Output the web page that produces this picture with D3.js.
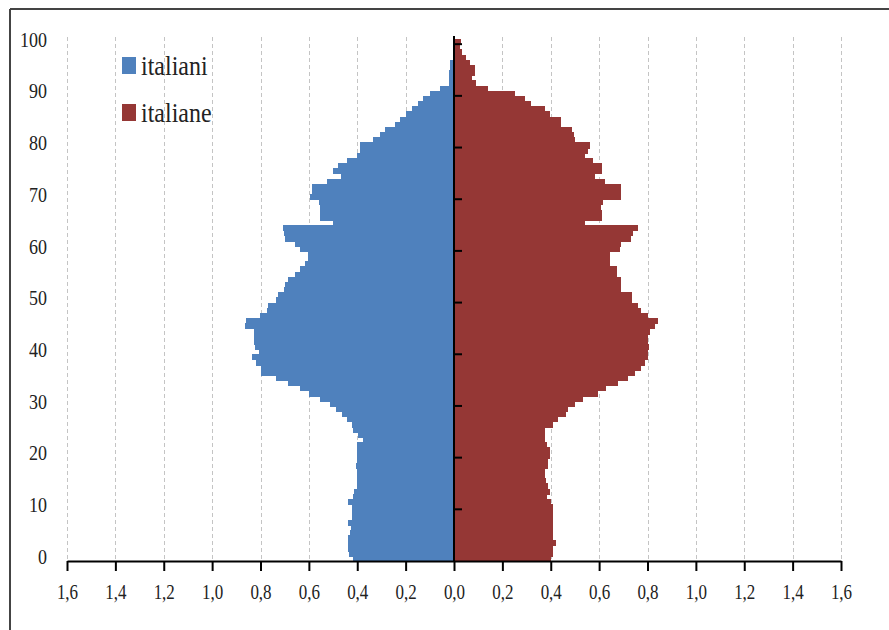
<!DOCTYPE html>
<html>
<head>
<meta charset="utf-8">
<script src="https://cdn.jsdelivr.net/npm/d3@7/dist/d3.min.js"></script>
<style>
  html, body { margin: 0; padding: 0; background: #fff; }
  svg { display: block; }
  text { font-family: "Liberation Serif", "DejaVu Serif", serif; fill: #222; }
</style>
</head>
<body>
<svg id="chart" width="889" height="630"></svg>
<script>
// ---- data ----
const ages = [0,1,2,3,4,5,6,7,8,9,10,11,12,13,14,15,16,17,18,19,20,21,22,23,24,25,26,27,28,29,30,31,32,33,34,35,36,37,38,39,40,41,42,43,44,45,46,47,48,49,50,51,52,53,54,55,56,57,58,59,60,61,62,63,64,65,66,67,68,69,70,71,72,73,74,75,76,77,78,79,80,81,82,83,84,85,86,87,88,89,90,91,92,93,94,95,96,97,98,99,100];
const italiani = [0.417,0.433,0.437,0.437,0.437,0.430,0.426,0.437,0.423,0.423,
  0.423,0.437,0.417,0.414,0.403,0.403,0.400,0.403,0.406,0.403,
  0.403,0.403,0.403,0.375,0.396,0.417,0.423,0.444,0.465,0.486,
  0.513,0.552,0.599,0.637,0.686,0.734,0.796,0.796,0.817,0.837,
  0.806,0.823,0.828,0.828,0.828,0.865,0.860,0.803,0.775,0.768,
  0.734,0.727,0.702,0.699,0.686,0.658,0.637,0.617,0.603,0.603,
  0.637,0.658,0.699,0.702,0.706,0.500,0.554,0.554,0.552,0.557,
  0.596,0.589,0.589,0.527,0.469,0.500,0.479,0.444,0.400,0.389,
  0.389,0.334,0.306,0.286,0.244,0.223,0.200,0.172,0.148,0.127,
  0.099,0.058,0.021,0.021,0.020,0.017,0.017,0.006,0.004,0.003,0.002];
const italiane = [0.400,0.410,0.410,0.423,0.410,0.410,0.410,0.410,0.410,0.410,
  0.410,0.403,0.386,0.396,0.389,0.382,0.378,0.378,0.389,0.389,
  0.396,0.396,0.386,0.378,0.378,0.375,0.410,0.430,0.465,0.472,
  0.499,0.534,0.596,0.630,0.679,0.720,0.748,0.775,0.789,0.800,
  0.803,0.806,0.803,0.803,0.810,0.830,0.844,0.800,0.775,0.761,
  0.734,0.734,0.692,0.692,0.692,0.672,0.672,0.644,0.644,0.644,
  0.686,0.690,0.731,0.741,0.761,0.541,0.610,0.610,0.607,0.617,
  0.690,0.692,0.692,0.623,0.582,0.610,0.610,0.575,0.541,0.554,
  0.561,0.499,0.497,0.486,0.444,0.444,0.396,0.375,0.320,0.292,
  0.251,0.141,0.092,0.074,0.086,0.086,0.065,0.051,0.033,0.023,0.030];
const xTicks = [-1.6,-1.4,-1.2,-1.0,-0.8,-0.6,-0.4,-0.2,0,0.2,0.4,0.6,0.8,1.0,1.2,1.4,1.6];
const yTickAges = [0,10,20,30,40,50,60,70,80,90,100];
const seriesNames = ["italiani","italiane"];
const seriesColors = ["#4F81BD","#953735"];

// ---- layout ----
const svg = d3.select("#chart");
const pLeft = 67, pRight = 841, pTop = 39, pBottom = 561;

// stretch text vertically around its anchor point (the reference glyphs are tall)
function stretch(sel, k) {
  sel.each(function() {
    const t = d3.select(this);
    const tx = +t.attr("x") || 0, ty = +t.attr("y") || 0;
    t.attr("transform", `translate(${tx},${ty}) scale(1,${k}) translate(${-tx},${-ty})`);
  });
}

svg.append("rect").attr("width",889).attr("height",630).attr("fill","#fff");
// outer frame (top + left visible)
svg.append("line").attr("x1",10).attr("x2",889).attr("y1",9).attr("y2",9)
  .attr("stroke","#444").attr("stroke-width",2);
svg.append("line").attr("x1",10).attr("x2",10).attr("y1",9).attr("y2",630)
  .attr("stroke","#444").attr("stroke-width",2);

const x = d3.scaleLinear().domain([-1.6,1.6]).range([pLeft,pRight]);
const y = d3.scaleBand().domain(ages).range([pBottom, pTop]).padding(0);

// gridlines
svg.append("g").selectAll("line").data(xTicks.filter(d => d !== 0)).join("line")
  .attr("x1", d => Math.round(x(d))+0.5).attr("x2", d => Math.round(x(d))+0.5)
  .attr("y1", pTop-2).attr("y2", pBottom)
  .attr("stroke","#c4c4c4").attr("stroke-width",1).attr("stroke-dasharray","4,3");

// bars (crisp edges, 1px overlap downward to avoid seams)
svg.append("g").attr("shape-rendering","crispEdges").selectAll("rect").data(ages).join("rect")
  .attr("x", (d,i) => x(-italiani[i]))
  .attr("width", (d,i) => x(0) - x(-italiani[i]))
  .attr("y", d => y(d)).attr("height", d => y.bandwidth() + (d === 0 ? 0 : 1))
  .attr("fill", seriesColors[0]);
svg.append("g").attr("shape-rendering","crispEdges").selectAll("rect").data(ages).join("rect")
  .attr("x", x(0))
  .attr("width", (d,i) => x(italiane[i]) - x(0))
  .attr("y", d => y(d)).attr("height", d => y.bandwidth() + (d === 0 ? 0 : 1))
  .attr("fill", seriesColors[1]);

// x axis
const fmt = d => Math.abs(d).toFixed(1).replace(".", ",");
const xAxis = d3.axisBottom(x).tickValues(xTicks).tickFormat(fmt).tickSize(10).tickSizeOuter(0);
const gx = svg.append("g").attr("transform", `translate(0,${pBottom})`).call(xAxis);
gx.select(".domain").attr("stroke","#000").attr("stroke-width",2);
gx.selectAll(".tick line").attr("stroke","#000").attr("stroke-width",2);
gx.selectAll(".tick text").attr("y", 31).attr("dy","0.35em")
  .style("font-family",'"Liberation Serif", serif').style("font-size","17px").attr("fill","#1a2a3a");
stretch(gx.selectAll(".tick text"), 1.2);

// center vertical axis with ticks at category boundaries
svg.append("line").attr("x1", x(0)).attr("x2", x(0)).attr("y1", pTop-3).attr("y2", pBottom)
  .attr("stroke","#000").attr("stroke-width",2);
svg.append("g").selectAll("line").data(yTickAges.filter(a => a > 0)).join("line")
  .attr("x1", x(0)).attr("x2", x(0)+8)
  .attr("y1", a => y(a) + y.bandwidth()).attr("y2", a => y(a) + y.bandwidth())
  .attr("stroke","#000").attr("stroke-width",2);

// y labels at left
const yl = svg.append("g").selectAll("text").data(yTickAges).join("text")
  .attr("x", 47).attr("y", a => y(a) + y.bandwidth()/2 - 2)
  .attr("dy","0.35em").attr("text-anchor","end")
  .style("font-size","18px").attr("fill","#1a2a3a")
  .text(a => a);
stretch(yl, 1.15);

// legend
const lg = svg.append("g");
seriesNames.forEach((name, i) => {
  const ly = 57 + i*47;
  lg.append("rect").attr("x",122).attr("y",ly).attr("width",14).attr("height",17)
    .attr("fill", seriesColors[i]);
  const t = lg.append("text").attr("x",141).attr("y",ly+18)
    .style("font-size","24px").attr("fill","#111").text(name);
  stretch(t, 1.12);
});
</script>
</body>
</html>
